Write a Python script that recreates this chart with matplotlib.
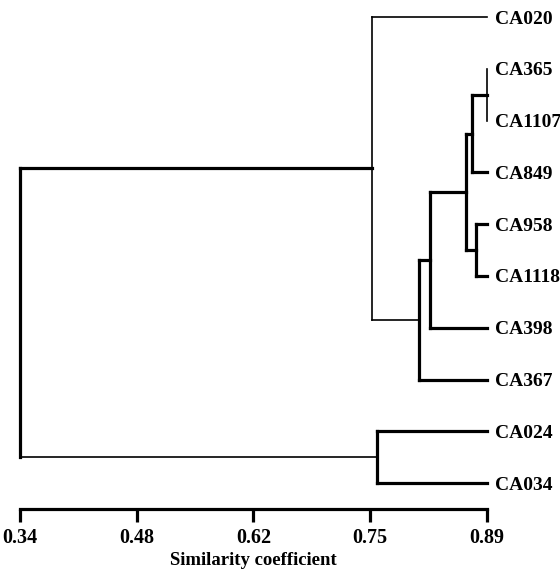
import numpy as np
import matplotlib.pyplot as plt

plt.rcParams["font.family"] = ["Liberation Serif", "DejaVu Serif"]
plt.rcParams["font.weight"] = "bold"

leaves = ["CA020", "CA365", "CA1107", "CA849", "CA958",
          "CA1118", "CA398", "CA367", "CA024", "CA034"]

# merges: (left child, right child, similarity); new nodes numbered from len(leaves)
merge_left = [1, 10, 4, 11, 13, 14, 0, 8, 16]
merge_right = [2, 3, 5, 12, 6, 7, 15, 9, 17]
merge_sim = [0.89, 0.872, 0.877, 0.865, 0.823, 0.810, 0.755, 0.760, 0.34]

tick_vals = np.linspace(0.34, 0.89, 5)
tick_labels = ["0.34", "0.48", "0.62", "0.75", "0.89"]

# which links are drawn thin (vertical of a node / horizontal to a child)
thin_vertical = {10, 16}
thin_link = {0, 15, 17}

THICK = 2.3
THIN = 1.2

fig = plt.figure(figsize=(5.6, 5.7), dpi=100)
ax = fig.add_axes([20 / 560, 61 / 570, 467 / 560, 492 / 570])

n = len(leaves)
xpos = {i: 0.89 for i in range(n)}
ypos = {i: float(i) for i in range(n)}

for k, (a, b, s) in enumerate(zip(merge_left, merge_right, merge_sim)):
    node = n + k
    ya, yb = ypos[a], ypos[b]
    ax.plot([s, s], [ya, yb], color="black",
            lw=THIN if node in thin_vertical else THICK,
            solid_capstyle="projecting", clip_on=False)
    for c in (a, b):
        if xpos[c] > s:
            ax.plot([s, xpos[c]], [ypos[c], ypos[c]], color="black",
                    lw=THIN if c in thin_link else THICK,
                    solid_capstyle="projecting", clip_on=False)
    xpos[node] = s
    ypos[node] = (ya + yb) / 2

ax.set_xlim(0.34, 0.89)
ax.set_ylim(9.5, 0)

for side in ["top", "left", "right"]:
    ax.spines[side].set_visible(False)
ax.spines["bottom"].set_linewidth(THICK)

ax.set_xticks(tick_vals)
ax.set_xticklabels(tick_labels)
ax.tick_params(axis="x", direction="out", length=9, width=THICK,
               labelsize=14.5, pad=5)

ax.set_yticks(range(n))
ax.set_yticklabels(leaves)
ax.yaxis.tick_right()
ax.tick_params(axis="y", length=0, pad=6, labelsize=14)

ax.set_xlabel("Similarity coefficient", fontsize=13.5, fontweight="bold",
              labelpad=2.5)

fig.savefig("out.png", dpi=100)
